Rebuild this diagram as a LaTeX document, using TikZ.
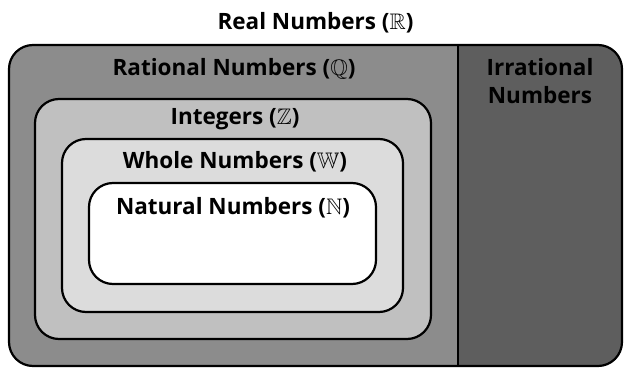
\documentclass[tikz,border=0pt]{standalone}
\usepackage{fontspec}
\usepackage{amssymb}
\setmainfont{Open Sans}
\usepackage{tikz}
\usetikzlibrary{positioning}

\definecolor{ratgray}{HTML}{8C8C8C}
\definecolor{intgray}{HTML}{C0C0C0}
\definecolor{wholegray}{HTML}{DCDCDC}
\definecolor{irrgray}{HTML}{5E5E5E}

\tikzset{
  setbox/.style={draw=black, line width=2.2pt, rounded corners=24pt, inner sep=0pt},
  settitle/.style={font=\bfseries\fontsize{22.5}{28}\selectfont, inner sep=0pt, anchor=base, align=center},
}

\begin{document}
\begin{tikzpicture}[x=1pt,y=-1pt]
        \useasboundingbox (0,0) rectangle (628,369);

        %% Sets
        \coordinate (divtop) at (458,45);
        \node[setbox, fill=ratgray, minimum width=613, minimum height=321,
              path picture={\fill[irrgray, sharp corners] (divtop |- path picture bounding box.north)
                            rectangle (path picture bounding box.south east);}]
              (real) at (315.5,205.5) {};
        \draw[line width=2.2pt] (divtop) -- (divtop |- real.south);
        \node[setbox, fill=intgray, minimum width=396, minimum height=240] (int) at (233,219) {};
        \node[setbox, fill=wholegray, minimum width=341, minimum height=173] (whole) at (232.5,225.5) {};
        \node[setbox, fill=white, minimum width=287, minimum height=101] (nat) at (232.5,233.5) {};

        % Titles
        \node[settitle] (realtitle) at (315.5,30) {Real Numbers ($\mathbb{R}$)};
        \node[settitle] (rattitle) at (234,75) {Rational Numbers ($\mathbb{Q}$)};
        \node[settitle] (irrtitle) at (540,103) {Irrational\\Numbers};
        \node[settitle] (inttitle) at (235,124) {Integers ($\mathbb{Z}$)};
        \node[settitle] (wholetitle) at (235,168) {Whole Numbers ($\mathbb{W}$)};
        \node[settitle] (nattitle) at (233,214) {Natural Numbers ($\mathbb{N}$)};
\end{tikzpicture}
\end{document}
